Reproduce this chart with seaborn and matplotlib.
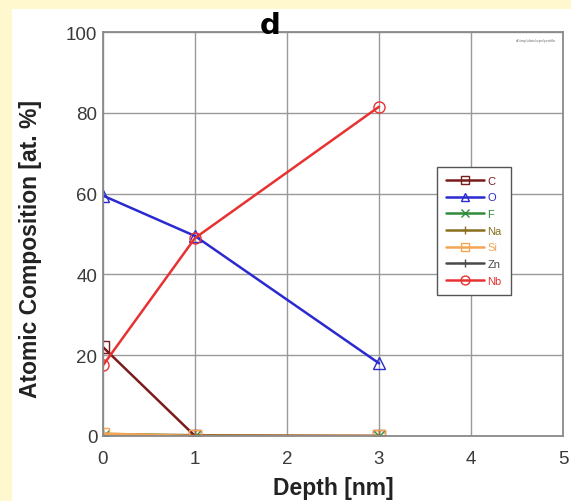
import numpy as np
import pandas as pd
import matplotlib
matplotlib.use('Agg')
import matplotlib.pyplot as plt
import seaborn as sns
from matplotlib.patches import Rectangle

"""depth profile of atomic composition, panel d"""

depth = [0, 1, 3]
elements = ['C', 'O', 'F', 'Na', 'Si', 'Zn', 'Nb']
c_vals = [22, 0, 0]
o_vals = [59.5, 49.5, 18]
f_vals = [0, 0, 0]
na_vals = [0.5, 0.2, 0]
si_vals = [0.6, 0, 0]
zn_vals = [0, 0, 0]
nb_vals = [17.5, 49, 81.5]

colors = {'C': '#7a1c1c', 'O': '#2a2ad0', 'F': '#2e8b3a', 'Na': '#8a7020',
          'Si': '#f2a655', 'Zn': '#4a4a4a', 'Nb': '#e83232'}
markers = {'C': 's', 'O': '^', 'F': 'x', 'Na': '+', 'Si': 's', 'Zn': '+', 'Nb': 'o'}


def main():
    values = [c_vals, o_vals, f_vals, na_vals, si_vals, zn_vals, nb_vals]
    df = pd.concat([pd.DataFrame({'depth': depth, 'comp': v, 'element': el})
                    for el, v in zip(elements, values)], ignore_index=True)

    sns.set_style('white')
    plt.rcParams['font.family'] = ['Liberation Sans', 'DejaVu Sans']
    fig = plt.figure(figsize=(5.71, 5.02), dpi=100, facecolor='#fff8cf')
    bg = Rectangle((12 / 571, 0), 1, 1 - 10 / 502, transform=fig.transFigure,
                   facecolor='white', edgecolor='none', zorder=-10)
    fig.add_artist(bg)
    ax = fig.add_axes([103 / 571, 1 - 437 / 502, 460 / 571, 404 / 502])
    ax.set_facecolor('white')

    # zero lines first so the big ones stay on top, Si squares visible over C
    for el in ['Zn', 'Na', 'F', 'C', 'Si', 'O', 'Nb']:
        sub = df[df['element'] == el]
        sns.lineplot(data=sub, x='depth', y='comp', ax=ax, color=colors[el], lw=1.8,
                     marker=markers[el], markersize=8, markerfacecolor='none',
                     markeredgecolor=colors[el], markeredgewidth=1.0, label=el)

    ax.set_xlim(0, 5)
    ax.set_ylim(0, 100)
    ax.set_xticks(range(0, 6))
    ax.set_yticks(range(0, 101, 20))
    ax.grid(True, color='#999999', lw=1.0)
    ax.set_axisbelow(True)
    for s in ax.spines.values():
        s.set_color('#8a8a8a')
        s.set_linewidth(1.3)
    ax.tick_params(axis='both', labelsize=13.5, labelcolor='#3a3a3a', length=0)
    ax.tick_params(axis='x', pad=10)
    ax.tick_params(axis='y', pad=4)
    ax.set_xlabel('Depth [nm]', fontsize=16.5, fontweight='bold', color='#222222')
    ax.set_ylabel('Atomic Composition [at. %]', fontsize=16.5, fontweight='bold',
                  color='#222222')
    ax.xaxis.set_label_coords(0.5, -0.1)
    ax.yaxis.set_label_coords(-0.133, 0.465)

    handles, labels = ax.get_legend_handles_labels()
    order = [labels.index(el) for el in elements]
    leg = ax.legend([handles[i] for i in order], [labels[i] for i in order],
                    loc='upper left', bbox_to_anchor=(0.715, 0.68), fontsize=8,
                    labelcolor='linecolor', fancybox=False, framealpha=1,
                    edgecolor='#555555', handlelength=3.4, handletextpad=0.3,
                    labelspacing=0.6, borderpad=0.8, markerscale=0.8)
    leg.get_frame().set_linewidth(1.0)

    fig.text(270 / 571, 1 - 26 / 502, 'd', fontsize=21, fontweight='bold',
             ha='center', va='center', color='black', family=['DejaVu Sans'])
    ax.text(0.985, 0.985, 'd:\\tmp\\data\\xps\\profile', transform=ax.transAxes,
            fontsize=3, color='#777777', ha='right', va='top')

    fig.savefig('out.png', dpi=100, facecolor=fig.get_facecolor())
    plt.close()


main()
